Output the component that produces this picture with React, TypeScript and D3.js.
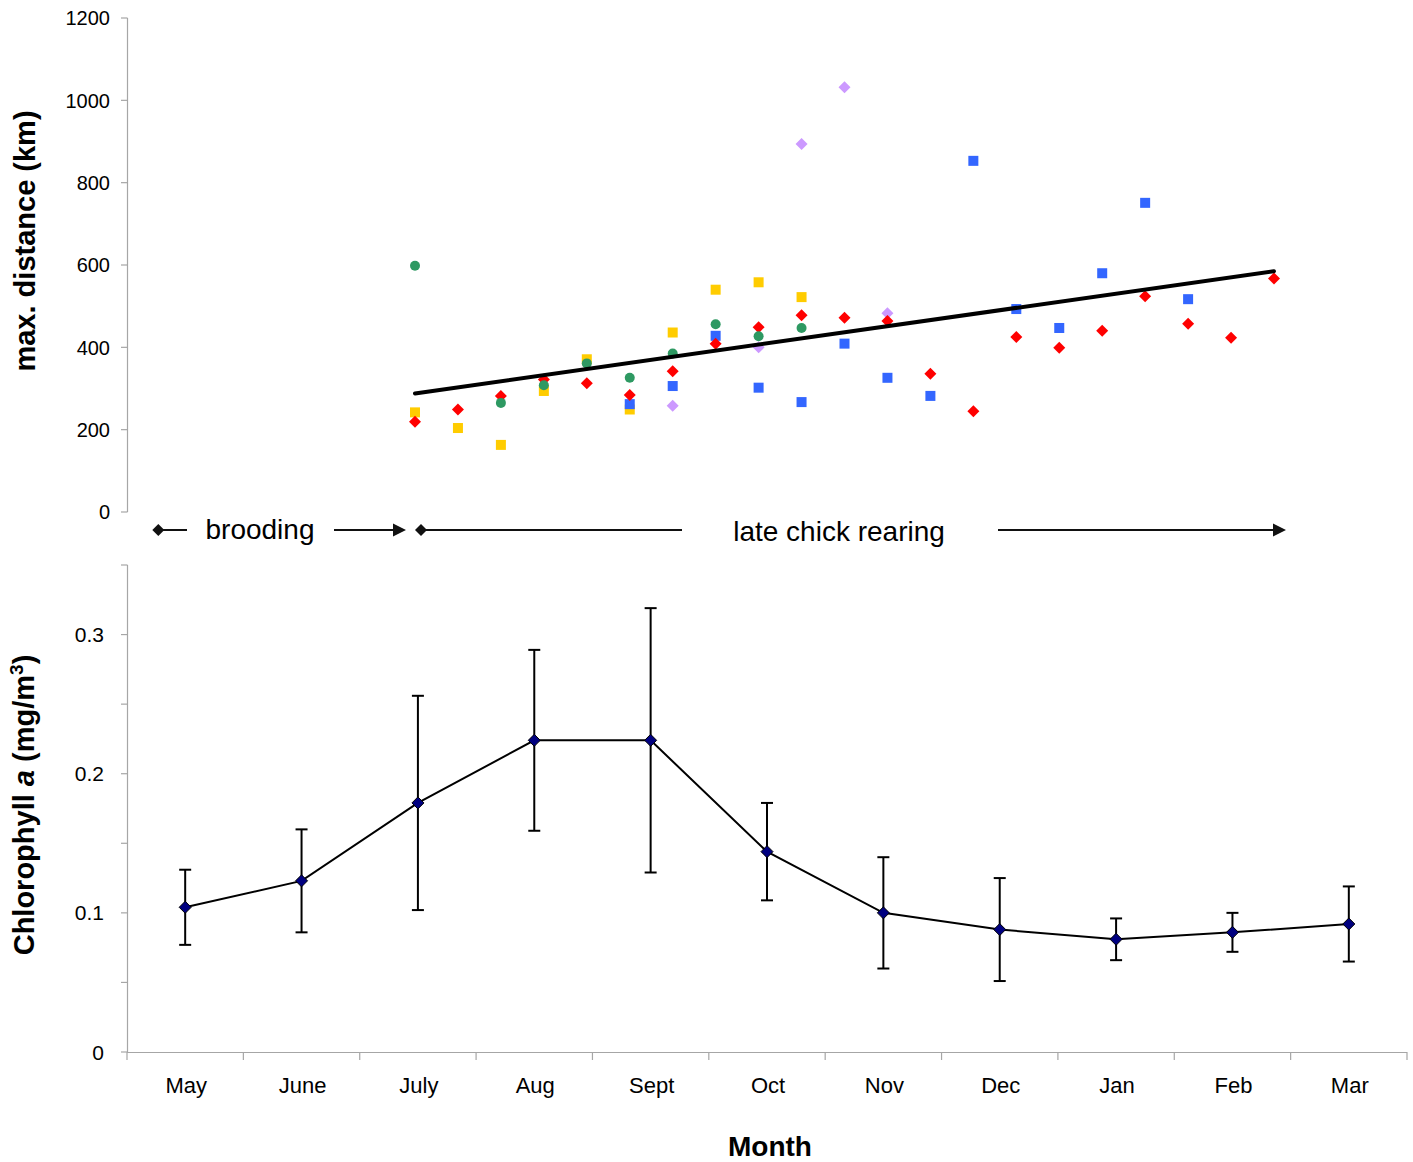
import React from "react";
import * as d3 from "d3";

// ---------- DATA ----------
const months = ["May", "June", "July", "Aug", "Sept", "Oct", "Nov", "Dec", "Jan", "Feb", "Mar"];
const chlMean = [0.104, 0.123, 0.179, 0.224, 0.224, 0.144, 0.1, 0.088, 0.081, 0.086, 0.092];
const chlErr = [0.027, 0.037, 0.077, 0.065, 0.095, 0.035, 0.04, 0.037, 0.015, 0.014, 0.027];
const chlTicks = [0, 0.1, 0.2, 0.3];
const chlMinorTicks = [0, 0.05, 0.1, 0.15, 0.2, 0.25, 0.3, 0.35];

const distTicks = [0, 200, 400, 600, 800, 1000, 1200];

const yellowPeriods = [0, 1, 2, 3, 4, 5, 6, 7, 8, 9];
const yellowKm = [242, 204, 163, 294, 371, 249, 436, 540, 558, 522];

const bluePeriods = [5, 6, 7, 8, 9, 10, 11, 12, 13, 14, 15, 16, 17, 18];
const blueKm = [262, 306, 428, 302, 267, 409, 326, 282, 853, 493, 447, 580, 751, 517];

const purplePeriods = [6, 8, 9, 10, 11];
const purpleKm = [258, 400, 894, 1032, 483];

const redPeriods = [0, 1, 2, 3, 4, 5, 6, 7, 8, 9, 10, 11, 12, 13, 14, 15, 16, 17, 18, 19, 20];
const redKm = [219, 249, 282, 322, 313, 284, 342, 409, 449, 478, 472, 464, 336, 245, 425, 399, 440, 524, 457, 423, 567];

const greenPeriods = [0, 2, 3, 4, 5, 6, 7, 8, 9];
const greenKm = [598, 265, 308, 361, 326, 385, 456, 427, 447];

const trendPeriods = [0, 20];
const trendKm = [288, 585];

const broodingPhase = [-6, 0];
const rearingPhase = [0, 20];

// ---------- LAYOUT ----------
const W = 1413;
const H = 1162;
const FONT = "'Liberation Sans', Arial, sans-serif";
const AXIS = "#a6a6a6";

const yTop = d3.scaleLinear().domain([0, 1200]).range([512, 18]);
const xTop = d3.scaleLinear().domain([0, 20]).range([415, 1274]);

const xBot = d3.scaleBand<string>().domain(months).range([127, 1407]);
const yBot = d3.scaleLinear().domain([0, 0.35]).range([1052, 565]);

const diamond = (x: number, y: number, s: number) =>
  `M${x},${y - s}L${x + s},${y}L${x},${y + s}L${x - s},${y}Z`;

function Squares({ periods, km, color }: { periods: number[]; km: number[]; color: string }) {
  return (
    <g>
      {periods.map((p, i) => (
        <rect key={i} x={xTop(p) - 5} y={yTop(km[i]) - 5} width={10} height={10} fill={color} />
      ))}
    </g>
  );
}
function Diamonds({ periods, km, color }: { periods: number[]; km: number[]; color: string }) {
  return (
    <g>
      {periods.map((p, i) => (
        <path key={i} d={diamond(xTop(p), yTop(km[i]), 6)} fill={color} />
      ))}
    </g>
  );
}
function Circles({ periods, km, color }: { periods: number[]; km: number[]; color: string }) {
  return (
    <g>
      {periods.map((p, i) => (
        <circle key={i} cx={xTop(p)} cy={yTop(km[i])} r={5} fill={color} />
      ))}
    </g>
  );
}

export default function App() {
  const trendLine = d3
    .line<number>()
    .x((p) => xTop(p))
    .y((_, i) => yTop(trendKm[i]))(trendPeriods) as string;

  const cx = (m: string) => (xBot(m) as number) + xBot.bandwidth() / 2;
  const chlLine = d3
    .line<string>()
    .x((m) => cx(m))
    .y((_, i) => yBot(chlMean[i]))(months) as string;

  const boundaries = [...months.map((m) => xBot(m) as number), xBot.range()[1]];

  const bS = xTop(broodingPhase[0]) + 1;
  const bE = xTop(broodingPhase[1]) - 9;
  const rS = xTop(rearingPhase[0]) + 6;
  const rE = xTop(rearingPhase[1]) + 12;
  const annY = 530;
  const annStroke = "#111";

  return (
    <svg
      width={W}
      height={H}
      viewBox={`0 0 ${W} ${H}`}
      style={{ position: "absolute", left: 0, top: 0, background: "#fff" }}
      fontFamily={FONT}
    >
      <rect x={0} y={0} width={W} height={H} fill="#fff" />

      {/* ---------- TOP CHART ---------- */}
      <line x1={127.5} x2={127.5} y1={yTop(1200)} y2={yTop(0)} stroke={AXIS} strokeWidth={1.2} />
      {distTicks.map((t) => (
        <g key={t}>
          <line x1={121} x2={127.5} y1={yTop(t)} y2={yTop(t)} stroke={AXIS} strokeWidth={1.2} />
          <text x={110} y={yTop(t)} dy="0.36em" textAnchor="end" fontSize={20} fill="#000">
            {t}
          </text>
        </g>
      ))}
      <text
        transform={`translate(35,241) rotate(-90)`}
        textAnchor="middle"
        fontSize={29}
        fontWeight="bold"
      >
        max. distance (km)
      </text>

      <Squares periods={yellowPeriods} km={yellowKm} color="#ffcc00" />
      <Squares periods={bluePeriods} km={blueKm} color="#3366ff" />
      <Diamonds periods={purplePeriods} km={purpleKm} color="#cc99ff" />
      <Diamonds periods={redPeriods} km={redKm} color="#ff0000" />
      <Circles periods={greenPeriods} km={greenKm} color="#2e9962" />

      <path d={trendLine} fill="none" stroke="#000" strokeWidth={4} strokeLinecap="round" />

      {/* ---------- PHASE ANNOTATIONS ---------- */}
      <path d={diamond(bS, annY, 6)} fill={annStroke} />
      <line x1={bS} x2={187} y1={annY} y2={annY} stroke={annStroke} strokeWidth={2} />
      <text x={260} y={annY} dy="0.33em" textAnchor="middle" fontSize={28}>
        brooding
      </text>
      <line x1={334} x2={bE - 8} y1={annY} y2={annY} stroke={annStroke} strokeWidth={2} />
      <path d={`M${bE},${annY}L${bE - 13},${annY - 6.5}L${bE - 13},${annY + 6.5}Z`} fill={annStroke} />

      <path d={diamond(rS, annY, 6)} fill={annStroke} />
      <line x1={rS} x2={682} y1={annY} y2={annY} stroke={annStroke} strokeWidth={2} />
      <text x={839} y={annY + 2} dy="0.33em" textAnchor="middle" fontSize={28}>
        late chick rearing
      </text>
      <line x1={998} x2={rE - 8} y1={annY} y2={annY} stroke={annStroke} strokeWidth={2} />
      <path d={`M${rE},${annY}L${rE - 13},${annY - 6.5}L${rE - 13},${annY + 6.5}Z`} fill={annStroke} />

      {/* ---------- BOTTOM CHART ---------- */}
      <line x1={127.5} x2={127.5} y1={yBot(0.35)} y2={yBot(0)} stroke={AXIS} strokeWidth={1.2} />
      {chlMinorTicks.map((t) => (
        <line key={t} x1={121} x2={127.5} y1={yBot(t)} y2={yBot(t)} stroke={AXIS} strokeWidth={1.2} />
      ))}
      {chlTicks.map((t) => (
        <text key={t} x={104} y={yBot(t)} dy="0.36em" textAnchor="end" fontSize={21} fill="#000">
          {t === 0 ? "0" : t.toFixed(1)}
        </text>
      ))}
      <line x1={127} x2={1407} y1={yBot(0) + 0.5} y2={yBot(0) + 0.5} stroke={AXIS} strokeWidth={1.2} />
      {boundaries.map((b, i) => (
        <line key={i} x1={b} x2={b} y1={yBot(0)} y2={yBot(0) + 8} stroke={AXIS} strokeWidth={1.2} />
      ))}
      {months.map((m) => (
        <text key={m} x={cx(m) + 1} y={1085} dy="0.36em" textAnchor="middle" fontSize={22}>
          {m}
        </text>
      ))}
      <text x={770} y={1156} textAnchor="middle" fontSize={28} fontWeight="bold">
        Month
      </text>
      <text
        transform={`translate(34,805) rotate(-90)`}
        textAnchor="middle"
        fontSize={29}
        fontWeight="bold"
      >
        Chlorophyll <tspan fontStyle="italic">a</tspan> (mg/m
        <tspan fontSize={19} dy={-11}>3</tspan>
        <tspan dy={11}>)</tspan>
      </text>

      {/* error bars */}
      {months.map((m, i) => {
        const x = cx(m);
        const y1 = yBot(chlMean[i] + chlErr[i]);
        const y2 = yBot(chlMean[i] - chlErr[i]);
        return (
          <g key={m} stroke="#000" strokeWidth={2}>
            <line x1={x} x2={x} y1={y1} y2={y2} />
            <line x1={x - 6} x2={x + 6} y1={y1} y2={y1} />
            <line x1={x - 6} x2={x + 6} y1={y2} y2={y2} />
          </g>
        );
      })}
      <path d={chlLine} fill="none" stroke="#000" strokeWidth={2} />
      {months.map((m, i) => (
        <path key={m} d={diamond(cx(m), yBot(chlMean[i]), 6)} fill="#000080" stroke="#000" strokeWidth={1} />
      ))}
    </svg>
  );
}
